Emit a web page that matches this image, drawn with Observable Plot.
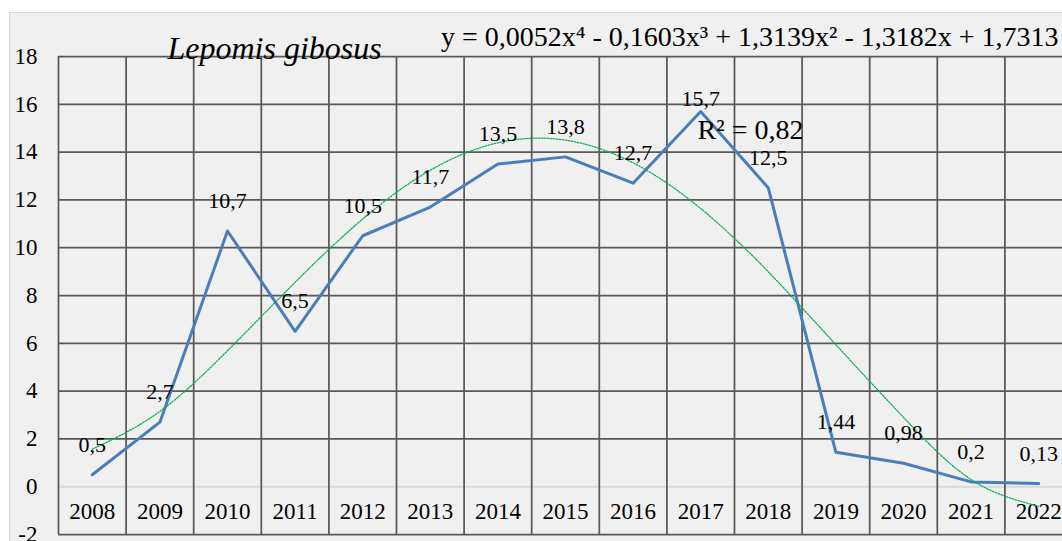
<!DOCTYPE html>
<html>
<head>
<meta charset="utf-8">
<script src="https://cdn.jsdelivr.net/npm/d3@7"></script>
<script src="https://cdn.jsdelivr.net/npm/@observablehq/plot@0.6"></script>
<style>
  body { margin: 0; background: #fff; overflow: hidden; }
  #wrap { position: relative; width: 1062px; height: 541px; overflow: hidden; }
  #panel { position: absolute; left: 9px; top: 12px; width: 1070px; height: 540px; background: #f0f0f0; border: 1px solid #d9d9d9; }
  #chart { position: absolute; left: 0; top: 0; }
  #chart svg, #chart svg text, #chart svg g { font-family: "Liberation Serif", "Times New Roman", serif !important; }
</style>
</head>
<body>
<div id="wrap"><div id="panel"></div><div id="chart"></div></div>
<script>
const years = [2008, 2009, 2010, 2011, 2012, 2013, 2014, 2015, 2016, 2017, 2018, 2019, 2020, 2021, 2022];
const values = [0.5, 2.7, 10.7, 6.5, 10.5, 11.7, 13.5, 13.8, 12.7, 15.7, 12.5, 1.44, 0.98, 0.2, 0.13];
const trendValues = [1.57, 3.15, 5.69, 8.55, 11.2, 13.24, 14.39, 14.5, 13.55, 11.64, 8.99, 5.94, 2.9, 0.3, -0.82];
const yTicks = [-2, 0, 2, 4, 6, 8, 10, 12, 14, 16, 18];
const speciesTitle = "Lepomis gibosus";
const equationText = "y = 0,0052x\u2074 - 0,1603x\u00B3 + 1,3139x\u00B2 - 1,3182x + 1,7313";
const r2Text = "R\u00B2 = 0,82";

const data = years.map((year, i) => ({year, value: values[i], label: String(values[i]).replace(".", ",")}));
const trend = years.map((year, i) => ({year, value: trendValues[i]}));
const edges = years.map(y => y - 0.5).concat([years[years.length - 1] + 0.5]);

const font = "Liberation Serif";

const chart = Plot.plot({
  width: 1062,
  height: 541,
  marginTop: 56,
  marginBottom: 7,
  marginLeft: 58,
  marginRight: 0,
  style: {background: "transparent", overflow: "visible", fontFamily: font, fontSize: "22px", color: "#000"},
  x: {domain: [2007.5, 2022.5], range: [58, 1072]},
  y: {domain: [-2, 18], range: [534, 56]},
  marks: [
    Plot.ruleY(yTicks.filter(t => t !== 0), {stroke: "#595959", strokeWidth: 1.75}),
    Plot.ruleY([0], {stroke: "#d9d9d9", strokeWidth: 2}),
    Plot.ruleX(edges, {stroke: "#595959", strokeWidth: 1.75}),
    Plot.axisY({ticks: yTicks, tickSize: 0, tickPadding: 21, fontSize: 23, fontFamily: font, fill: "#000", tickFormat: d => String(d), label: null}),
    Plot.axisX({ticks: years, tickSize: 0, tickPadding: 0, dy: -32, fontSize: 23, fontFamily: font, fill: "#000", tickFormat: d => String(d), label: null}),
    Plot.line(data, {x: "year", y: "value", stroke: "#4a7ebb", strokeWidth: 3, strokeLinejoin: "round"}),
    Plot.line(trend, {x: "year", y: "value", curve: "natural", stroke: "#00b050", strokeWidth: 1.25, strokeDasharray: "1.5 1.5"}),
    Plot.text(data.filter(d => d.year !== 2017), {x: "year", y: "value", text: "label", dy: -30, fontSize: 22, fontFamily: font, fill: "#000", lineAnchor: "middle"}),
    Plot.text(data.filter(d => d.year === 2017), {x: "year", y: "value", text: "label", dy: -13, fontSize: 22, fontFamily: font, fill: "#000", lineAnchor: "middle"}),
    Plot.text([speciesTitle], {frameAnchor: "top-left", dx: 109, dy: 2, textAnchor: "start", lineAnchor: "bottom", fontSize: 32, fontFamily: font, fontStyle: "italic", fill: "#000"}),
    Plot.text([equationText], {frameAnchor: "top-right", dx: -4, dy: -11, textAnchor: "end", lineAnchor: "bottom", fontSize: 28, fontFamily: font, fill: "#000"}),
    Plot.text([r2Text], {frameAnchor: "top-left", dx: 692, dy: 74, textAnchor: "middle", lineAnchor: "middle", fontSize: 28, fontFamily: font, fill: "#000"})
  ]
});
document.getElementById("chart").appendChild(chart);
</script>
</body>
</html>
